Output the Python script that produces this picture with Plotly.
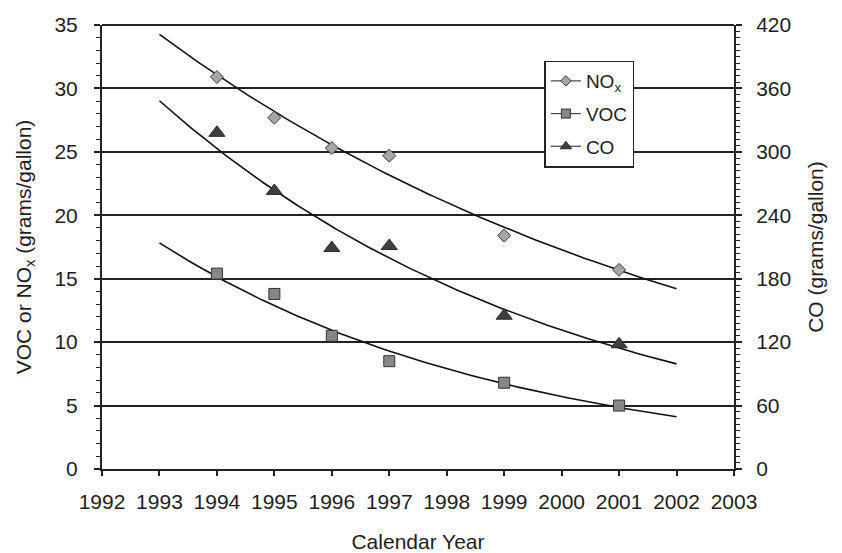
import numpy as np
import plotly.graph_objects as go

# Emission factors by calendar year
years = [1994, 1995, 1996, 1997, 1999, 2001]
nox = [30.9, 27.7, 25.3, 24.7, 18.4, 15.7]      # grams/gallon (left axis)
voc = [15.4, 13.8, 10.5, 8.5, 6.8, 5.0]         # grams/gallon (left axis)
co = [318, 263, 209, 211, 145, 118]             # grams/gallon (right axis)

trend_start, trend_end = 1993, 2002
x_ticks = list(range(1992, 2004))
left_ticks = list(range(0, 36, 5))
right_ticks = list(range(0, 421, 60))

FONT = "Liberation Sans, Arial, sans-serif"
INK = "#1e1e1e"


def exp_trend(xs, ys):
    # least-squares exponential fit, y = a * exp(b * x)
    b, ln_a = np.polyfit(np.array(xs, float), np.log(ys), 1)
    xt = np.linspace(trend_start, trend_end, 200)
    return xt, np.exp(ln_a + b * xt)


fig = go.Figure()

series = [
    ("NO<sub>x</sub>", nox, "y",
     dict(symbol="diamond", size=10, color="#a6a6a6", line=dict(color="#3a3a3a", width=1)),
     dict(symbol="diamond", size=8, color="#a6a6a6", line=dict(color="#3a3a3a", width=1))),
    ("VOC", voc, "y",
     dict(symbol="square", size=11, color="#878787", line=dict(color="#333333", width=1)),
     dict(symbol="square", size=9, color="#878787", line=dict(color="#333333", width=1))),
    ("CO", co, "y2",
     dict(symbol="triangle-up", size=14, color="#3f3f3f", line=dict(color="#2a2a2a", width=1)),
     dict(symbol="triangle-up", size=10, color="#3f3f3f", line=dict(color="#2a2a2a", width=1))),
]

for i, (name, vals, yax, marker, legend_marker) in enumerate(series):
    xt, yt = exp_trend(years, vals)
    fig.add_trace(go.Scatter(x=xt, y=yt, mode="lines", yaxis=yax,
                             line=dict(color="#111111", width=1.6),
                             showlegend=False, hoverinfo="skip"))
    fig.add_trace(go.Scatter(x=years, y=vals, mode="markers", yaxis=yax,
                             marker=marker, showlegend=False, name=name))
    # legend entry with a short line through the symbol
    fig.add_trace(go.Scatter(x=[None], y=[None], mode="lines+markers", yaxis=yax,
                             marker=legend_marker, line=dict(color="#444444", width=1.2),
                             name=name, legendgroup=f"g{i}"))

fig.update_layout(
    width=842, height=553,
    margin=dict(l=102, r=108, t=25, b=84),
    paper_bgcolor="white", plot_bgcolor="white",
    font=dict(family=FONT, size=21, color=INK),
    showlegend=True,
    legend=dict(
        x=0.7, y=0.92, xanchor="left", yanchor="top",
        bgcolor="white", bordercolor="#222222", borderwidth=1.5,
        font=dict(family=FONT, size=19, color=INK),
        traceorder="grouped", tracegroupgap=5, itemwidth=30,
    ),
    xaxis=dict(
        range=[1992, 2003], tickmode="array", tickvals=x_ticks,
        ticks="outside", ticklen=5, tickwidth=1.5, tickcolor="#222222",
        showline=True, linecolor="#222222", linewidth=2,
        showgrid=False, zeroline=False, ticklabelstandoff=8,
        title=dict(text="Calendar Year", standoff=24, font=dict(size=21)),
        tickfont=dict(size=21), automargin=False,
    ),
    yaxis=dict(
        range=[0, 35], tickmode="array", tickvals=left_ticks,
        ticks="outside", ticklen=6, tickwidth=1.5, tickcolor="#222222",
        minor=dict(dtick=1, ticks="outside", ticklen=4, tickcolor="#222222",
                   tickwidth=1, showgrid=False),
        showline=True, linecolor="#222222", linewidth=2,
        showgrid=True, gridcolor="#222222", gridwidth=1.6, zeroline=False,
        ticklabelstandoff=12,
        title=dict(text="VOC or NO<sub>x</sub> (grams/gallon)", standoff=17,
                   font=dict(size=21)),
        tickfont=dict(size=21), automargin=False,
    ),
    yaxis2=dict(
        range=[0, 420], tickmode="array", tickvals=right_ticks,
        overlaying="y", side="right",
        ticks="outside", ticklen=6, tickwidth=1.5, tickcolor="#222222",
        minor=dict(dtick=6, ticks="outside", ticklen=4, tickcolor="#222222",
                   tickwidth=1, showgrid=False),
        showline=True, linecolor="#222222", linewidth=2,
        showgrid=False, zeroline=False, ticklabelstandoff=10,
        title=dict(text="CO (grams/gallon)", standoff=18, font=dict(size=21)),
        tickfont=dict(size=21), automargin=False,
    ),
)

# top border of the plotting area
fig.add_shape(type="line", xref="paper", yref="paper", x0=0, x1=1, y0=1, y1=1,
              line=dict(color="#222222", width=2))

fig.write_html("out.html")
